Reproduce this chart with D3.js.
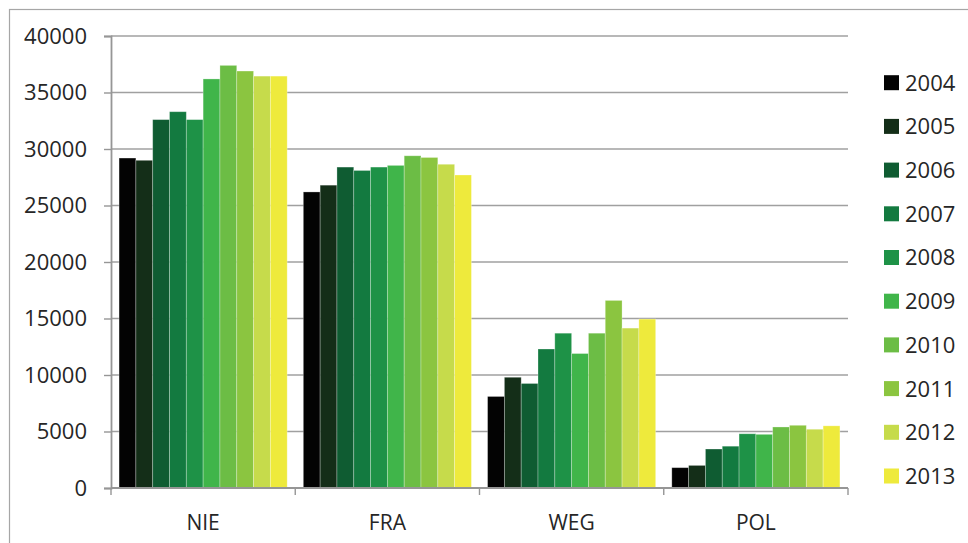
<!DOCTYPE html>
<html>
<head>
<meta charset="utf-8">
<script src="https://cdn.jsdelivr.net/npm/d3@7"></script>
<style>
  html, body { margin: 0; padding: 0; background: #fff; }
  svg { display: block; }
  text { font-family: "Open Sans", sans-serif; fill: #262626; }
</style>
</head>
<body>
<svg id="chart" width="968" height="543"></svg>
<script>
// Countries on the x axis
const categories = ["NIE", "FRA", "WEG", "POL"];
// Years shown as series
const years = ["2004", "2005", "2006", "2007", "2008", "2009", "2010", "2011", "2012", "2013"];
// Values per year, in category order NIE, FRA, WEG, POL
const v2004 = [29200, 26200, 8100, 1800];
const v2005 = [29000, 26800, 9800, 2000];
const v2006 = [32600, 28400, 9250, 3450];
const v2007 = [33300, 28100, 12300, 3700];
const v2008 = [32600, 28400, 13700, 4800];
const v2009 = [36200, 28550, 11900, 4750];
const v2010 = [37400, 29400, 13700, 5400];
const v2011 = [36900, 29250, 16600, 5550];
const v2012 = [36450, 28650, 14150, 5200];
const v2013 = [36450, 27700, 14950, 5500];
const seriesValues = [v2004, v2005, v2006, v2007, v2008, v2009, v2010, v2011, v2012, v2013];
const yTicks = [0, 5000, 10000, 15000, 20000, 25000, 30000, 35000, 40000];
const colors = ["#030303", "#142e18", "#0f5c32", "#137a40", "#1e9247",
                "#40b54a", "#6cbd45", "#8bc540", "#c6db4b", "#eeea3c"];

const svg = d3.select("#chart");

// outer chart frame
svg.append("rect")
  .attr("x", 9.5).attr("y", 9.5)
  .attr("width", 970).attr("height", 560)
  .attr("fill", "none").attr("stroke", "#a6a6a6").attr("stroke-width", 1.2);

const plot = { left: 111, right: 848, top: 36, bottom: 488 };

const x = d3.scaleBand().domain(categories).range([plot.left, plot.right]).padding(0);
const xYear = d3.scaleBand().domain(years).range([0, x.bandwidth()])
  .paddingInner(0).paddingOuter(0.48);
const y = d3.scaleLinear().domain([0, 40000]).range([plot.bottom, plot.top]);

// horizontal gridlines
svg.append("g").selectAll("line")
  .data(yTicks.filter(t => t > 0))
  .join("line")
  .attr("x1", plot.left).attr("x2", plot.right)
  .attr("y1", d => y(d)).attr("y2", d => y(d))
  .attr("stroke", "#a0a0a0").attr("stroke-width", 1.6);

// bars
const rows = [];
categories.forEach((c, ci) => {
  years.forEach((yr, si) => rows.push({ c, yr, si, v: seriesValues[si][ci] }));
});
svg.append("g").selectAll("rect")
  .data(rows)
  .join("rect")
  .attr("x", d => x(d.c) + xYear(d.yr))
  .attr("y", d => y(d.v))
  .attr("width", xYear.bandwidth())
  .attr("height", d => y(0) - y(d.v))
  .attr("fill", d => colors[d.si])
  .attr("stroke", "rgba(255,255,255,0.35)")
  .attr("stroke-width", 0.8);

// y axis
const yAxis = d3.axisLeft(y).tickValues(yTicks).tickSize(7).tickPadding(17)
  .tickFormat(d3.format("d"));
const gy = svg.append("g").attr("transform", `translate(${plot.left},0)`).call(yAxis);
gy.select(".domain").attr("stroke", "#969696").attr("stroke-width", 1.8);
gy.selectAll(".tick line").attr("stroke", "#969696").attr("stroke-width", 1.4);
gy.selectAll(".tick text").style("font-size", "22px").attr("fill", "#262626")
  .attr("font-family", "Open Sans, sans-serif");

// x axis with tick marks at category boundaries
const gx = svg.append("g").attr("transform", `translate(0,${plot.bottom})`);
gx.append("line").attr("x1", plot.left).attr("x2", plot.right)
  .attr("stroke", "#969696").attr("stroke-width", 2);
const bounds = categories.map(c => x(c)).concat([plot.right]);
gx.selectAll("line.b").data(bounds).join("line").attr("class", "b")
  .attr("x1", d => d).attr("x2", d => d).attr("y1", 0).attr("y2", 7)
  .attr("stroke", "#969696").attr("stroke-width", 1.4);
gx.selectAll("text").data(categories).join("text")
  .attr("x", d => x(d) + x.bandwidth() / 2)
  .attr("y", 42)
  .attr("text-anchor", "middle")
  .style("font-size", "21px")
  .text(d => d);

// legend
const legend = svg.append("g");
const items = legend.selectAll("g").data(years).join("g")
  .attr("transform", (d, i) => `translate(884,${82.7 + i * 43.7})`);
items.append("rect").attr("x", 0).attr("y", -7.5).attr("width", 15).attr("height", 15)
  .attr("fill", (d, i) => colors[i]);
items.append("text").attr("x", 21).attr("y", 0).attr("dy", "0.36em")
  .style("font-size", "22px").text(d => d);
</script>
</body>
</html>
